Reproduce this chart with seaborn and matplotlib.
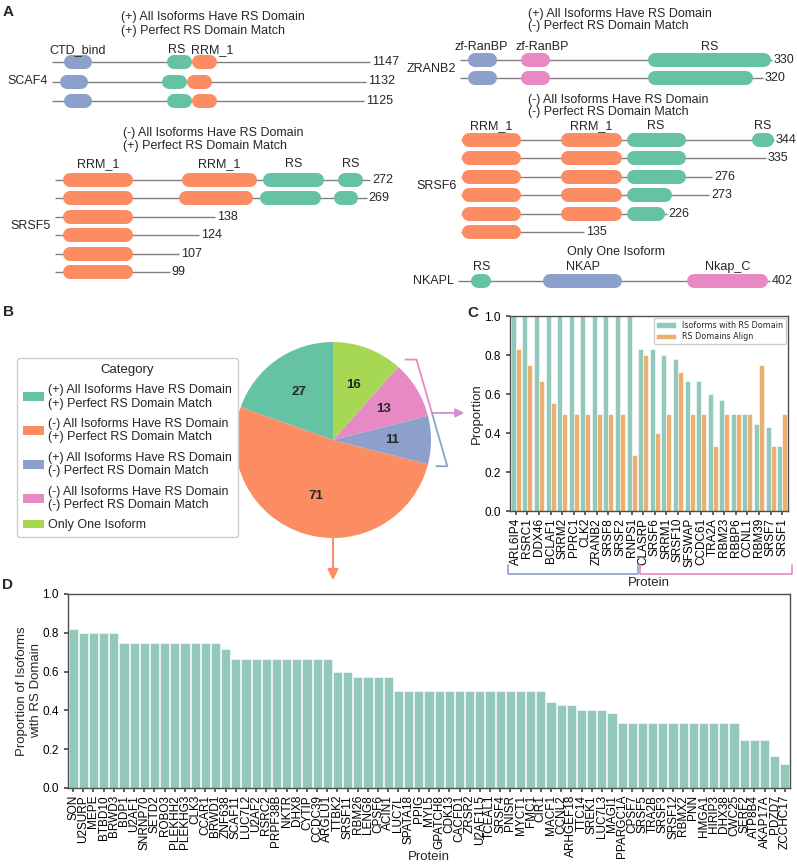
import matplotlib
matplotlib.use("Agg")
import matplotlib.pyplot as plt
from matplotlib.patches import Patch, FancyArrowPatch
import matplotlib.transforms as mtransforms
import numpy as np
import pandas as pd
import seaborn as sns

# ---------------- data ----------------
# Panel A: domain architecture; each domain = (slot index, aa start, aa end)
scaf4_lengths = [1147, 1132, 1125]
scaf4_slots = ["CTD_bind", "RS", "RRM_1"]
scaf4_domains = [
    [(0, 43, 144), (1, 415, 505), (2, 505, 595)],
    [(0, 29, 130), (1, 397, 487), (2, 487, 577)],
    [(0, 43, 144), (1, 415, 505), (2, 505, 595)],
]
srsf5_lengths = [272, 269, 138, 124, 107, 99]
srsf5_slots = ["RRM_1", "RRM_1", "RS", "RS"]
srsf5_domains = [
    [(0, 7, 67), (1, 110, 174), (2, 180, 232), (3, 244, 266)],
    [(0, 7, 67), (1, 107, 171), (2, 177, 230), (3, 241, 262)],
    [(0, 7, 67)],
    [(0, 7, 67)],
    [(0, 7, 67)],
    [(0, 7, 67)],
]
zranb2_lengths = [330, 320]
zranb2_slots = ["zf-RanBP", "zf-RanBP", "RS"]
zranb2_domains = [
    [(0, 8, 39), (1, 64, 95), (2, 199, 329)],
    [(0, 8, 39), (1, 64, 95), (2, 199, 310)],
]
srsf6_lengths = [344, 335, 276, 273, 226, 135]
srsf6_slots = ["RRM_1", "RRM_1", "RS", "RS"]
srsf6_domains = [
    [(0, 1, 66), (1, 110, 177), (2, 182, 247), (3, 320, 344)],
    [(0, 1, 66), (1, 110, 177), (2, 182, 247)],
    [(0, 1, 66), (1, 110, 177), (2, 182, 247)],
    [(0, 1, 66), (1, 110, 177), (2, 182, 232)],
    [(0, 1, 66), (1, 110, 177), (2, 182, 224)],
    [(0, 1, 66)],
]
nkapl_lengths = [402]
nkapl_slots = ["RS", "NKAP", "Nkap_C"]
nkapl_domains = [[(0, 17, 43), (1, 110, 211), (2, 295, 400)]]

# Panel B
pie_labels = [
    "(+) All Isoforms Have RS Domain\n(+) Perfect RS Domain Match",
    "(-) All Isoforms Have RS Domain\n(+) Perfect RS Domain Match",
    "(+) All Isoforms Have RS Domain\n(-) Perfect RS Domain Match",
    "(-) All Isoforms Have RS Domain\n(-) Perfect RS Domain Match",
    "Only One Isoform",
]
pie_counts = [27, 71, 11, 13, 16]

# Panel C
c_proteins = ["ARL6IP4", "RSRC1", "DDX46", "BCLAF1", "SRRM2", "PPRC1", "CLK2",
              "ZRANB2", "SRSF8", "SRSF2", "RNPS1", "CLASRP", "SRSF6", "SRRM1",
              "SRSF10", "SFSWAP", "CCDC61", "TRA2A", "RBM23", "RBBP6", "CCNL1",
              "RBM39", "SRSF7", "SRSF1"]
c_iso = [1.0, 1.0, 1.0, 1.0, 1.0, 1.0, 1.0, 1.0, 1.0, 1.0, 1.0,
         0.833, 0.833, 0.8, 0.778, 0.667, 0.667, 0.6, 0.571, 0.5, 0.5,
         0.444, 0.429, 0.333]
c_align = [0.833, 0.75, 0.667, 0.556, 0.5, 0.5, 0.5, 0.5, 0.5, 0.5, 0.286,
           0.8, 0.4, 0.5, 0.714, 0.5, 0.5, 0.333, 0.5, 0.5, 0.5,
           0.75, 0.333, 0.5]
c_series = ["Isoforms with RS Domain", "RS Domains Align"]
c_group_sizes = [11, 13]

# Panel D
d_proteins = ["SON", "U2SURP", "MEPE", "BTBD10", "BRWD3", "BDP1", "U2AF1",
              "SNRNP70", "SETD2", "ROBO3", "PLEKHH2", "PLEKHG3", "CLK3", "CCAR1",
              "BRWD1", "ZNF638", "SCAF11", "LUC7L2", "U2AF2", "RSRC2", "PRPF38B",
              "NKTR", "DHX8", "CYTIP", "CCDC39", "ARGLU1", "TTBK2", "SRSF11",
              "RBM26", "LENG8", "CPSF6", "ACIN1", "LUC7L", "SPATA18", "PPIG",
              "MYL5", "GPATCH8", "CDK13", "CACFD1", "ZRSR2", "U2AF1L5", "TCEAL1",
              "SRSF4", "PNISR", "MYCT1", "FMC1", "CIR1", "MACF1", "CCNL2",
              "ARHGEF18", "TTC14", "SREK1", "LUC7L3", "MAGI1", "PPARGC1A", "CPSF7",
              "SRSF5", "TRA2B", "SRSF3", "SRSF12", "RBMX2", "PNN", "HMGA1",
              "HIRIP3", "DHX38", "CWC25", "SERF2", "ATP8B4", "AKAP17A", "PDZD7",
              "ZCCHC17"]
d_vals = [0.818, 0.8, 0.8, 0.8, 0.8,
          0.75, 0.75, 0.75, 0.75, 0.75, 0.75, 0.75, 0.75, 0.75, 0.75,
          0.714,
          0.667, 0.667, 0.667, 0.667, 0.667, 0.667, 0.667, 0.667, 0.667, 0.667,
          0.6, 0.6,
          0.571, 0.571, 0.571, 0.571,
          0.5, 0.5, 0.5, 0.5, 0.5, 0.5, 0.5, 0.5, 0.5, 0.5, 0.5, 0.5, 0.5, 0.5, 0.5,
          0.444, 0.429, 0.429, 0.4, 0.4, 0.4, 0.385,
          0.333, 0.333, 0.333, 0.333, 0.333, 0.333, 0.333, 0.333, 0.333, 0.333,
          0.333, 0.333,
          0.25, 0.25, 0.25, 0.167, 0.125]

# ---------------- style ----------------
W, H, DPI = 797, 864, 100
GREEN, ORANGE, BLUE, PINK, LIME = "#66c2a5", "#fc8d62", "#8da0cb", "#e78ac3", "#a6d854"
TEAL_BAR, ORANGE_BAR = "#93c8bd", "#ebb071"
LINE_C = "#808080"
PILL_H = 14  # px
FS = 9

sns.set_theme(style="ticks")
plt.rcParams["font.family"] = ["Liberation Sans", "DejaVu Sans"]
plt.rcParams.update({"font.size": FS, "axes.labelsize": 9.5,
                     "xtick.labelsize": 8.5, "ytick.labelsize": 8.5,
                     "axes.edgecolor": "0.3", "xtick.color": "0.3",
                     "ytick.color": "0.3", "xtick.labelcolor": "black",
                     "ytick.labelcolor": "black"})

fig = plt.figure(figsize=(W / DPI, H / DPI), dpi=DPI)


def px_rect(x0, y0, x1, y1):
    return [x0 / W, 1 - y1 / H, (x1 - x0) / W, (y1 - y0) / H]


def ftext(x, y, s, **kw):
    return fig.text(x / W, 1 - y / H, s, **kw)


def draw_protein(name, lengths, slots, domains, colors, x0, x1, y0, sp,
                 lab_dy, nudges=None):
    n = len(lengths)
    ax = fig.add_axes(px_rect(x0, y0 - sp / 2, x1, y0 + (n - 1) * sp + sp / 2))
    ax.set_xlim(0, max(lengths))
    ax.set_ylim(n - 0.5, -0.5)
    ax.axis("off")
    aa_per_px = max(lengths) / (x1 - x0)
    r = PILL_H / 2 * aa_per_px
    for i, (L, doms) in enumerate(zip(lengths, domains)):
        ax.plot([0, L], [i, i], color=LINE_C, lw=1.0, zorder=1,
                solid_capstyle="butt", clip_on=False)
        ax.annotate(str(L), xy=(L, i), xytext=(2, 0), textcoords="offset pixels",
                    ha="left", va="center", fontsize=FS, annotation_clip=False)
        for slot, a, b in doms:
            ax.plot([a + r, b - r], [i, i], color=colors[slot],
                    lw=PILL_H * 72 / DPI, solid_capstyle="round", zorder=2,
                    clip_on=False)
    for k, (slot, a, b) in enumerate(domains[0]):
        dx = nudges[k] if nudges else 0
        ax.annotate(slots[slot], xy=((a + b) / 2, 0), xytext=(dx, lab_dy),
                    textcoords="offset pixels", ha="center", va="center",
                    fontsize=FS, annotation_clip=False)
    ax.annotate(name, xy=(0, (n - 1) / 2), xytext=(-4, 0),
                textcoords="offset pixels", ha="right", va="center",
                fontsize=FS, annotation_clip=False)
    return ax


# ---------------- Panel A ----------------
draw_protein("SCAF4", scaf4_lengths, scaf4_slots, scaf4_domains,
             [BLUE, GREEN, ORANGE], 52, 370, 62, 19.5, 12, nudges=[0, -3, 8])
draw_protein("SRSF5", srsf5_lengths, srsf5_slots, srsf5_domains,
             [ORANGE, ORANGE, GREEN, GREEN], 55, 370, 180, 18.4, 16)
draw_protein("ZRANB2", zranb2_lengths, zranb2_slots, zranb2_domains,
             [BLUE, PINK, GREEN], 460, 772, 60, 18, 13, nudges=[-1, 7, 0])
draw_protein("SRSF6", srsf6_lengths, srsf6_slots, srsf6_domains,
             [ORANGE, ORANGE, GREEN, GREEN], 461, 774, 140, 18.4, 14)
draw_protein("NKAPL", nkapl_lengths, nkapl_slots, nkapl_domains,
             [GREEN, BLUE, PINK], 458, 770, 281, 18, 14)

title_specs = [(121, 17, pie_labels[0]), (123, 133, pie_labels[1]),
               (528, 14, pie_labels[2]), (528, 100, pie_labels[3])]
gaps = [14, 13, 12, 11.5]
for (x, y, s), g in zip(title_specs, gaps):
    l1, l2 = s.split("\n")
    ftext(x, y, l1, ha="left", va="center", fontsize=FS)
    ftext(x, y + g, l2, ha="left", va="center", fontsize=FS)
ftext(616, 252, pie_labels[4], ha="center", va="center", fontsize=FS)

# panel letters
for lx, ly, lt in [(3, 12, "A"), (3, 312, "B"), (467, 313, "C"), (2, 585, "D")]:
    ftext(lx, ly, lt, ha="left", va="center", fontsize=11, fontweight="bold")

# ---------------- Panel B ----------------
pie_colors = [GREEN, ORANGE, BLUE, PINK, LIME]
axP = fig.add_axes(px_rect(333 - 147, 440 - 147, 333 + 147, 440 + 147))
total = sum(pie_counts)
wedges, _, autotexts = axP.pie(
    pie_counts, colors=pie_colors, startangle=90, counterclock=True,
    autopct=lambda p: f"{p * total / 100:.0f}", pctdistance=0.6,
    wedgeprops=dict(linewidth=0), textprops=dict(fontweight="bold", fontsize=9.5))
axP.set_xlim(-1.5, 1.5)
axP.set_ylim(-1.5, 1.5)
axP.set_aspect("equal")
axP.axis("off")

th_top = np.deg2rad(wedges[3].theta2)
th_bot = np.deg2rad(wedges[2].theta1)
A = np.array([1.1 * np.cos(th_top), 1.1 * np.sin(th_top)])
B = np.array([1.08 * np.cos(th_bot), 1.08 * np.sin(th_bot)])
tick = np.array([0.12, 0.0])
A2, B2 = A + tick, B + tick
mid = (A2 + B2) / 2
axP.plot([A[0], A2[0], mid[0]], [A[1], A2[1], mid[1]], color=PINK, lw=1.3,
         clip_on=False, solid_capstyle="butt")
axP.plot([mid[0], B2[0], B[0]], [mid[1], B2[1], B[1]], color=BLUE, lw=1.3,
         clip_on=False, solid_capstyle="butt")
axP.add_patch(FancyArrowPatch(tuple(mid), (1.34, mid[1]), arrowstyle="-|>",
                              mutation_scale=13, color="#cf8fd0", lw=1.3,
                              shrinkA=0, shrinkB=0, clip_on=False))
axP.add_patch(FancyArrowPatch((0, -1.0), (0, -1.43), arrowstyle="-|>",
                              mutation_scale=16, color=ORANGE, lw=1.5,
                              shrinkA=0, shrinkB=0, clip_on=False))

handles = [Patch(facecolor=c, edgecolor="none") for c in pie_colors]
leg = fig.legend(handles, pie_labels, title="Category", loc="upper left",
                 bbox_to_anchor=(17 / W, 1 - 358 / H), bbox_transform=fig.transFigure,
                 fontsize=FS, title_fontsize=9.5, labelspacing=0.65,
                 handlelength=1.7, handleheight=0.7, handletextpad=0.35,
                 borderaxespad=0, borderpad=0.45, frameon=True, fancybox=True,
                 edgecolor="0.8", framealpha=1)

# ---------------- Panel C ----------------
dfC = pd.DataFrame({
    "Protein": c_proteins * 2,
    "Proportion": c_iso + c_align,
    "Metric": [c_series[0]] * len(c_proteins) + [c_series[1]] * len(c_proteins),
})
axC = fig.add_axes(px_rect(510, 316, 788, 511))
sns.barplot(data=dfC, x="Protein", y="Proportion", hue="Metric",
            palette=[TEAL_BAR, ORANGE_BAR], saturation=1, width=0.86,
            edgecolor="white", linewidth=0.4, ax=axC)
axC.set_ylim(0, 1)
axC.set_xlim(-0.5, len(c_proteins) - 0.5)
axC.set_yticks(np.arange(0, 1.01, 0.2))
axC.tick_params(axis="x", rotation=90, length=3, pad=2)
axC.tick_params(axis="y", length=3)
axC.set_xlabel("Protein")
axC.xaxis.set_label_coords(0.5, -(583 - 511) / 195)
axC.xaxis.label.set_va("center")
axC.set_ylabel("Proportion", labelpad=1.5)
axC.legend(loc="upper right", prop={"family": "DejaVu Sans", "size": 5.8},
           frameon=True, edgecolor="0.8", borderaxespad=0.25, handlelength=2.4,
           framealpha=1, borderpad=0.35, labelspacing=0.3)
for s in axC.spines.values():
    s.set_linewidth(1.0)

# brackets under C tick labels
trC = mtransforms.blended_transform_factory(axC.transData, fig.transFigure)
yb, yt = 1 - 574 / H, 1 - 565 / H
g_start = [-0.67, c_group_sizes[0] - 0.27]
g_end = [c_group_sizes[0] - 0.45, sum(c_group_sizes) - 0.15]
for xs, xe, col in zip(g_start, g_end, [BLUE, PINK]):
    axC.plot([xs, xs, xe, xe], [yt, yb, yb, yt], color=col, lw=1.2,
             transform=trC, clip_on=False)

# ---------------- Panel D ----------------
dfD = pd.DataFrame({"Protein": d_proteins, "Proportion": d_vals})
axD = fig.add_axes(px_rect(68, 594, 790, 788))
sns.barplot(data=dfD, x="Protein", y="Proportion", color=TEAL_BAR,
            saturation=1, width=0.9, edgecolor="white", linewidth=0.4, ax=axD)
axD.set_ylim(0, 1)
axD.set_xlim(-0.5, len(d_proteins) - 0.5)
axD.set_yticks(np.arange(0, 1.01, 0.2))
axD.tick_params(axis="x", rotation=90, length=3, pad=2)
axD.tick_params(axis="y", length=3)
axD.set_xlabel("Protein")
axD.xaxis.set_label_coords(0.5, -(857 - 788) / 194)
axD.xaxis.label.set_va("center")
axD.set_ylabel("Proportion of Isoforms\nwith RS Domain", labelpad=0.5)
for s in axD.spines.values():
    s.set_linewidth(1.0)

fig.savefig("out.png", dpi=DPI)
